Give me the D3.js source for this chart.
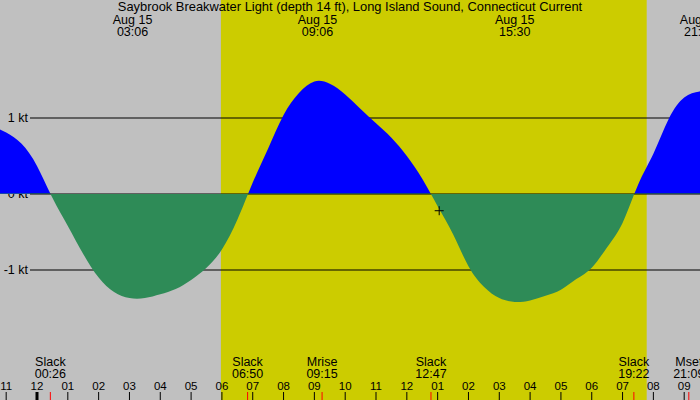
<!DOCTYPE html>
<html>
<head>
<meta charset="utf-8">
<script src="https://cdn.jsdelivr.net/npm/d3@7"></script>
<style>
  html, body { margin: 0; padding: 0; background: #fff; }
  svg { display: block; }
  text { font-family: "Liberation Sans", Arial, sans-serif; fill: #000; }
</style>
</head>
<body>
<svg id="chart" width="700" height="400"></svg>
<script>
// ---------------- DATA ----------------
const title = "Saybrook Breakwater Light (depth 14 ft), Long Island Sound, Connecticut Current";

// hours since midnight Aug 15 (local time), half-hourly, and current speed in knots
const sampleHours = [-1.5, -1.0, -0.5, 0.0, 0.5, 1.0, 1.5, 2.0, 2.5, 3.0, 3.5, 4.0, 4.5, 5.0, 5.5, 6.0, 6.5,
  7.0, 7.5, 8.0, 8.5, 9.0, 9.5, 10.0, 10.5, 11.0, 11.5, 12.0, 12.5,
  13.0, 13.5, 14.0, 14.5, 15.0, 15.5, 16.0, 16.5, 17.0, 17.5, 18.0, 18.5, 19.0,
  19.5, 20.0, 20.5, 21.0, 21.5, 22.0];
const sampleKnots = [0.90, 0.81, 0.66, 0.37, -0.05, -0.42, -0.79, -1.10, -1.29, -1.37, -1.37, -1.32, -1.25, -1.13, -0.97, -0.73, -0.34,
  0.15, 0.60, 1.04, 1.33, 1.48, 1.45, 1.31, 1.12, 0.93, 0.74, 0.50, 0.20,
  -0.16, -0.53, -0.95, -1.22, -1.37, -1.42, -1.40, -1.34, -1.26, -1.12, -0.97, -0.70, -0.38,
  0.12, 0.53, 0.99, 1.27, 1.35, 1.36];

// y reference lines
const levelValues = [1, 0, -1];
const levelLabels = ["1 kt", "0 kt", "-1 kt"];

// hour ticks
const tickHours = [-1, 0, 1, 2, 3, 4, 5, 6, 7, 8, 9, 10, 11, 12, 13, 14, 15, 16, 17, 18, 19, 20, 21];
const tickLabels = ["11", "12", "01", "02", "03", "04", "05", "06", "07", "08", "09", "10", "11",
  "12", "01", "02", "03", "04", "05", "06", "07", "08", "09"];

// events at the bottom
const eventNames = ["Slack", "Slack", "Mrise", "Slack", "Slack", "Mset"];
const eventTimes = ["00:26", "06:50", "09:15", "12:47", "19:22", "21:09"];

// peaks labelled at the top
const peakDates = ["Aug 15", "Aug 15", "Aug 15", "Aug 15"];
const peakTimes = ["03:06", "09:06", "15:30", "21:30"];

// daylight
const sunriseTime = "05:58";
const sunsetTime = "19:47";

// current-time marker
const markTime = "13:03";
const markKnots = -0.22;

// ---------------- DRAW ----------------
const W = 700, H = 400;
const toH = s => { const [h, m] = s.split(":").map(Number); return h + m / 60; };

const x = d3.scaleLinear().domain([0, 21]).range([37, 684.2]);
const y = d3.scaleLinear().domain([-1, 1]).range([270, 118]);

const svg = d3.select("#chart");
const data = sampleHours.map((h, i) => ({ h, v: sampleKnots[i] }));

// backgrounds
svg.append("rect").attr("x", 0).attr("y", 0).attr("width", W).attr("height", H).attr("fill", "#c0c0c0");
svg.append("rect")
  .attr("x", x(toH(sunriseTime))).attr("y", 0)
  .attr("width", x(toH(sunsetTime)) - x(toH(sunriseTime))).attr("height", H)
  .attr("fill", "#cccc00");

// clip paths
const defs = svg.append("defs");
defs.append("clipPath").attr("id", "above").append("rect")
  .attr("x", 0).attr("y", 0).attr("width", W).attr("height", y(0));
defs.append("clipPath").attr("id", "below").append("rect")
  .attr("x", 0).attr("y", y(0) - 0.5).attr("width", W).attr("height", H - y(0) + 0.5);

// level lines (non-zero under fills)
const lineX0 = 30;
levelValues.forEach((v, i) => {
  if (v !== 0) {
    svg.append("line").attr("x1", lineX0).attr("x2", W)
      .attr("y1", y(v)).attr("y2", y(v)).attr("stroke", "#000").attr("stroke-width", 1);
  }
  svg.append("text").attr("x", 28).attr("y", y(v) + 4)
    .attr("text-anchor", "end").style("font-size", "12.5px").text(levelLabels[i]);
});

const area = d3.area().x(d => x(d.h)).y0(y(0)).y1(d => y(d.v)).curve(d3.curveNatural);

svg.append("path").datum(data).attr("d", area).attr("fill", "#0000ff").attr("clip-path", "url(#above)");
svg.append("line").attr("x1", lineX0).attr("x2", W).attr("y1", y(0)).attr("y2", y(0))
  .attr("stroke", "#000").attr("stroke-width", 1);
svg.append("path").datum(data).attr("d", area).attr("fill", "#2e8b57").attr("clip-path", "url(#below)");

// marker
const mx = x(toH(markTime)), my = y(markKnots);
svg.append("path").attr("d", `M${mx - 4.5},${my}H${mx + 4.5}M${mx},${my - 4.5}V${my + 4.5}`)
  .attr("stroke", "#000").attr("stroke-width", 1).attr("fill", "none");

// title & peak labels
svg.append("text").attr("x", W / 2).attr("y", 11).attr("text-anchor", "middle")
  .style("font-size", "12.9px").text(title);
peakTimes.forEach((t, i) => {
  const px = x(toH(t));
  svg.append("text").attr("x", px).attr("y", 24).attr("text-anchor", "middle")
    .style("font-size", "12.5px").text(peakDates[i]);
  svg.append("text").attr("x", px).attr("y", 36).attr("text-anchor", "middle")
    .style("font-size", "12.5px").text(t);
});

// hour axis
tickHours.forEach((h, i) => {
  const tx = x(h);
  svg.append("line").attr("x1", tx).attr("x2", tx).attr("y1", 392).attr("y2", H)
    .attr("stroke", "#000").attr("stroke-width", h === 0 ? 3 : 1);
  svg.append("text").attr("x", tx).attr("y", 389.5).attr("text-anchor", "middle")
    .style("font-size", "11.5px").text(tickLabels[i]);
});

// events
eventTimes.forEach((t, i) => {
  const ex = x(toH(t));
  svg.append("line").attr("x1", ex).attr("x2", ex).attr("y1", 392).attr("y2", H)
    .attr("stroke", "#ff0000").attr("stroke-width", 1);
  svg.append("text").attr("x", ex).attr("y", 366).attr("text-anchor", "middle")
    .style("font-size", "12.5px").text(eventNames[i]);
  svg.append("text").attr("x", ex).attr("y", 377.5).attr("text-anchor", "middle")
    .style("font-size", "12.5px").text(t);
});
</script>
</body>
</html>
